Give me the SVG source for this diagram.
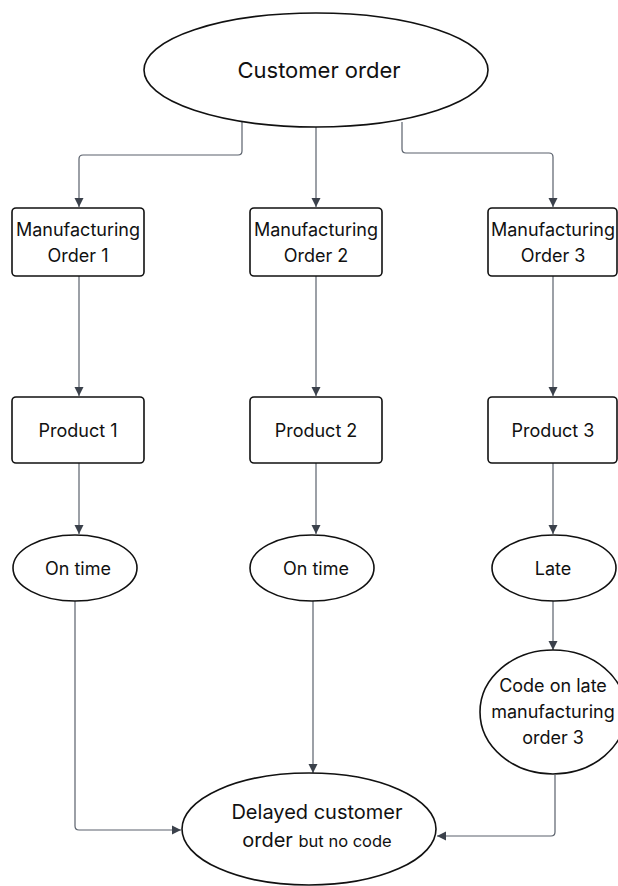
<svg xmlns="http://www.w3.org/2000/svg" width="618" height="886" viewBox="0 0 618 886">
<style>
  .node { fill: #ffffff; stroke: #111111; stroke-width: 1.6; }
  .edge { fill: none; stroke: #5a616c; stroke-width: 1.2; }
  text { font-family: "Inter", "Liberation Sans", sans-serif; fill: #111111; text-anchor: middle; }
  .t17 { font-size: 18px; }
</style>
<defs>
  <marker id="arr" markerWidth="10" markerHeight="10" refX="9" refY="5" orient="auto" markerUnits="userSpaceOnUse">
    <path d="M0,0.5 L9,5 L0,9.5 Z" fill="#3b414b"/>
  </marker>
</defs>
<rect width="618" height="886" fill="#ffffff"/>
<g id="connectors">
  <path class="edge" d="M242,122 V151 Q242,155 238,155 H83 Q79,155 79,159 V207" marker-end="url(#arr)"/>
  <path class="edge" d="M316,127 V207" marker-end="url(#arr)"/>
  <path class="edge" d="M402,122 V149 Q402,153 406,153 H549 Q553,153 553,157 V207" marker-end="url(#arr)"/>
  <path class="edge" d="M79,276 V396" marker-end="url(#arr)"/>
  <path class="edge" d="M316,276 V396" marker-end="url(#arr)"/>
  <path class="edge" d="M553,276 V396" marker-end="url(#arr)"/>
  <path class="edge" d="M79,463 V534" marker-end="url(#arr)"/>
  <path class="edge" d="M316,463 V534" marker-end="url(#arr)"/>
  <path class="edge" d="M553,463 V534" marker-end="url(#arr)"/>
  <path class="edge" d="M553,601 V650" marker-end="url(#arr)"/>
  <path class="edge" d="M75,601 V826 Q75,830 79,830 H181" marker-end="url(#arr)"/>
  <path class="edge" d="M313,601 V773" marker-end="url(#arr)"/>
  <path class="edge" d="M555,775 V832 Q555,836 551,836 H437" marker-end="url(#arr)"/>
</g>
<g id="customer-order">
  <ellipse class="node" cx="316" cy="70" rx="172" ry="57"/>
  <text x="319" y="78" font-size="22px">Customer order</text>
</g>
<g id="mo1">
  <rect class="node" x="12" y="208" width="132" height="68" rx="4"/>
  <text class="t17" x="78" y="236">Manufacturing</text>
  <text class="t17" x="78" y="262">Order 1</text>
</g>
<g id="mo2">
  <rect class="node" x="250" y="208" width="132" height="68" rx="4"/>
  <text class="t17" x="316" y="236">Manufacturing</text>
  <text class="t17" x="316" y="262">Order 2</text>
</g>
<g id="mo3">
  <rect class="node" x="488" y="208" width="129" height="68" rx="4"/>
  <text class="t17" x="553" y="236">Manufacturing</text>
  <text class="t17" x="553" y="262">Order 3</text>
</g>
<g id="p1">
  <rect class="node" x="12" y="397" width="132" height="66" rx="4"/>
  <text class="t17" x="78" y="437">Product 1</text>
</g>
<g id="p2">
  <rect class="node" x="250" y="397" width="132" height="66" rx="4"/>
  <text class="t17" x="316" y="437">Product 2</text>
</g>
<g id="p3">
  <rect class="node" x="488" y="397" width="129" height="66" rx="4"/>
  <text class="t17" x="553" y="437">Product 3</text>
</g>
<g id="ontime1">
  <ellipse class="node" cx="75" cy="568" rx="62" ry="33"/>
  <text class="t17" x="78" y="575">On time</text>
</g>
<g id="ontime2">
  <ellipse class="node" cx="312" cy="568" rx="62" ry="33"/>
  <text class="t17" x="316" y="575">On time</text>
</g>
<g id="late">
  <ellipse class="node" cx="554" cy="568" rx="62" ry="33"/>
  <text class="t17" x="553" y="575">Late</text>
</g>
<g id="code">
  <ellipse class="node" cx="553" cy="712" rx="73" ry="62"/>
  <text class="t17" x="553" y="692">Code on late</text>
  <text class="t17" x="553" y="718">manufacturing</text>
  <text class="t17" x="553" y="744">order 3</text>
</g>
<g id="delayed">
  <ellipse class="node" cx="309" cy="829" rx="127" ry="56"/>
  <text x="317" y="819" font-size="20px">Delayed customer</text>
  <text x="317" y="847" font-size="20px">order <tspan font-size="16.5px">but no code</tspan></text>
</g>
</svg>
